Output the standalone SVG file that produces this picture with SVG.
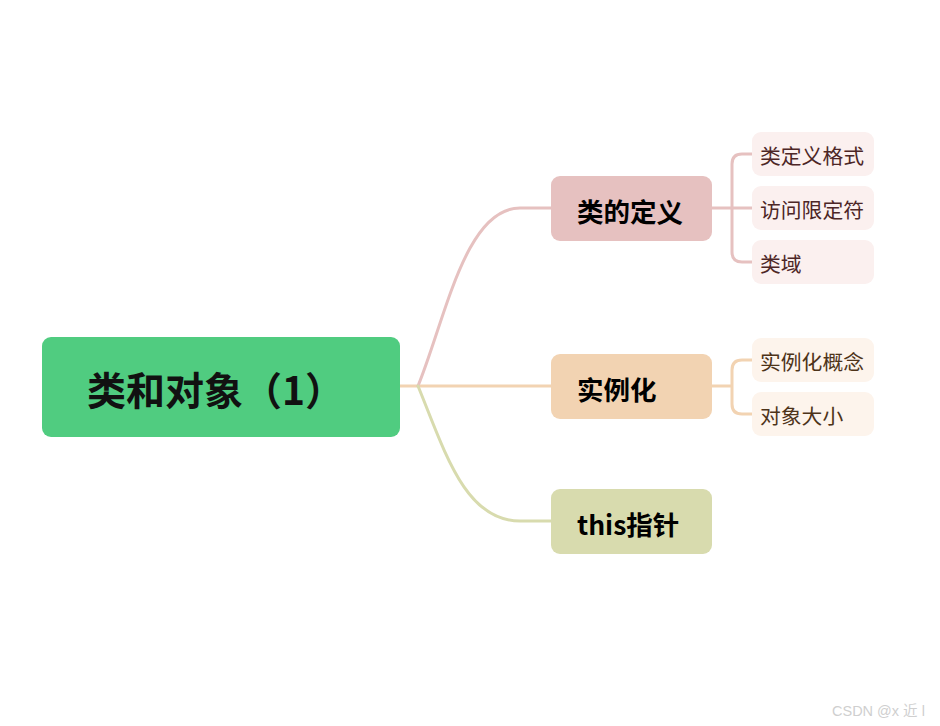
<svg xmlns="http://www.w3.org/2000/svg" width="940" height="726" viewBox="0 0 940 726">
<style>
.c{fill:none;stroke-width:3;stroke-linecap:round}
.mt{font-family:"Noto Sans CJK SC","Noto Sans",sans-serif;font-weight:bold;font-size:26.5px;fill:#000;dominant-baseline:central}
.st{font-family:"Noto Sans CJK SC","Noto Sans",sans-serif;font-size:20.8px;dominant-baseline:central}
</style>
<rect width="940" height="726" fill="#fff"/>
<g id="connectors">
<path class="c" stroke="#f2d3b2" d="M400,386 L551,386"/>
<path class="c" stroke="#e6c1c0" d="M418,386 C445,320 465,208 520,208 L551,208"/>
<path class="c" stroke="#d8dbae" d="M418,386 C445,452 465,521 520,521 L551,521"/>
<path class="c" stroke="#e6c1c0" d="M712,208 L752,208 M752,154 L742,154 Q732,154 732,164 L732,252 Q732,262 742,262 L752,262"/>
<path class="c" stroke="#f2d3b2" d="M712,386 L732,386 M752,360 L742,360 Q732,360 732,370 L732,404 Q732,414 742,414 L752,414"/>
</g>
<g id="root">
<rect x="42" y="337" width="358" height="100" rx="9" fill="#50cc80"/>
<text x="87" y="388" style="font-family:'Noto Sans CJK SC','Noto Sans',sans-serif;font-weight:bold;font-size:39px;fill:#111;dominant-baseline:central">类和对象（1）</text>
</g>
<g id="n1">
<rect x="551" y="176" width="161" height="65" rx="9" fill="#e6c1c0"/>
<text class="mt" x="577" y="210">类的定义</text>
</g>
<g id="n2">
<rect x="551" y="354" width="161" height="65" rx="9" fill="#f2d3b2"/>
<text class="mt" x="577" y="388">实例化</text>
</g>
<g id="n3">
<rect x="551" y="489" width="161" height="65" rx="9" fill="#d8dbae"/>
<text class="mt" x="577" y="523">this指针</text>
</g>
<g id="s1">
<rect x="752" y="132" width="122" height="44" rx="9" fill="#fbf0ef"/>
<text class="st" x="760" y="155" fill="#4d2626">类定义格式</text>
</g>
<g id="s2">
<rect x="752" y="186" width="122" height="44" rx="9" fill="#fbf0ef"/>
<text class="st" x="760" y="209" fill="#4d2626">访问限定符</text>
</g>
<g id="s3">
<rect x="752" y="240" width="122" height="44" rx="9" fill="#fbf0ef"/>
<text class="st" x="760" y="263" fill="#4d2626">类域</text>
</g>
<g id="s4">
<rect x="752" y="338" width="122" height="44" rx="9" fill="#fdf4ec"/>
<text class="st" x="760" y="361" fill="#4d3319">实例化概念</text>
</g>
<g id="s5">
<rect x="752" y="392" width="122" height="44" rx="9" fill="#fdf4ec"/>
<text class="st" x="760" y="415" fill="#4d3319">对象大小</text>
</g>
<text x="832" y="716" style="font-family:'Liberation Sans','Noto Sans CJK SC',sans-serif;font-size:14.5px;fill:#cfcfcf">CSDN @x 近 l</text>
</svg>
